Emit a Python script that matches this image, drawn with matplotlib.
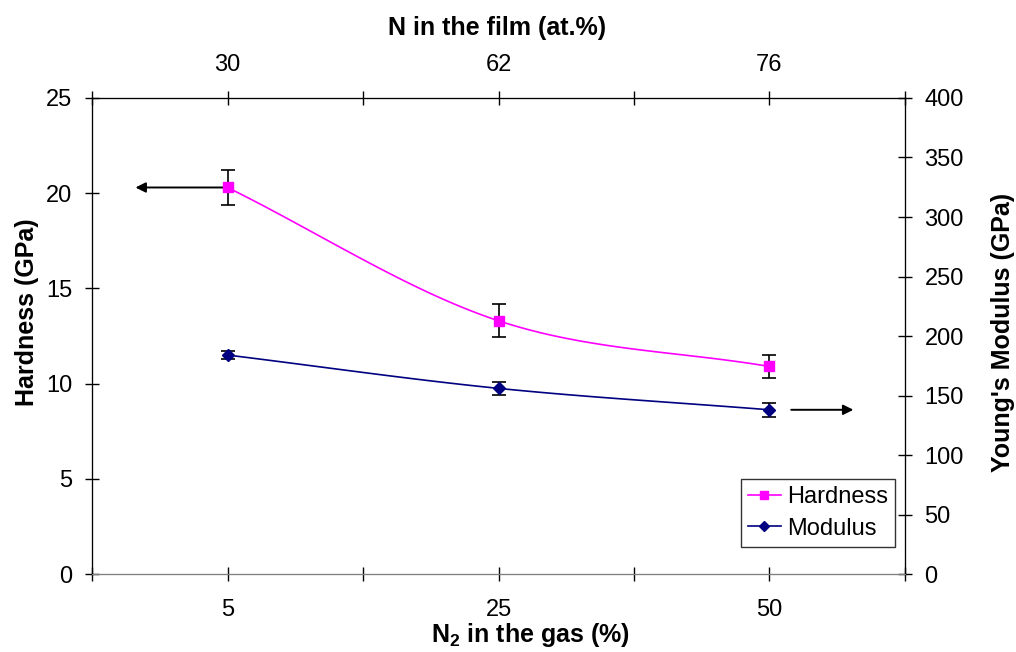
import numpy as np
import matplotlib
matplotlib.use("Agg")
import matplotlib.pyplot as plt
from matplotlib.ticker import MultipleLocator
from matplotlib.lines import Line2D

plt.rcParams['font.family'] = ['Liberation Sans', 'DejaVu Sans']

# data
gas_labels = ['5', '25', '50']
film_labels = ['30', '62', '76']
hardness = [20.3, 13.3, 10.9]
hardness_err = [0.92, 0.86, 0.6]
modulus = [184, 156, 138]
modulus_err = [3, 5.5, 6]

xpos = np.arange(len(gas_labels)) + 0.5


def smooth(x, y, n=40):
    # Catmull-Rom through the points, like a spreadsheet "smoothed line"
    x = np.asarray(x, float)
    y = np.asarray(y, float)
    px = np.concatenate([[2 * x[0] - x[1]], x, [2 * x[-1] - x[-2]]])
    py = np.concatenate([[2 * y[0] - y[1]], y, [2 * y[-1] - y[-2]]])
    xs, ys = [], []
    t = np.linspace(0, 1, n)
    for i in range(1, len(px) - 2):
        for p, out in ((px, xs), (py, ys)):
            p0, p1, p2, p3 = p[i - 1], p[i], p[i + 1], p[i + 2]
            out.append(0.5 * (2 * p1 + (-p0 + p2) * t
                              + (2 * p0 - 5 * p1 + 4 * p2 - p3) * t ** 2
                              + (-p0 + 3 * p1 - 3 * p2 + p3) * t ** 3))
    return np.concatenate(xs), np.concatenate(ys)


FS = 17     # tick labels / legend
LFS = 18    # axis titles
W, H = 1016, 652

fig = plt.figure(figsize=(10.16, 6.52), dpi=100)
ax = fig.add_axes([0.0906, 0.1196, 0.8001, 0.7301])
ax2 = ax.twinx()
ax3 = ax.twiny()

hx, hy = smooth(xpos, hardness)
ax.plot(hx, hy, color='#FF00FF', lw=1.2, zorder=3)
ax.errorbar(xpos, hardness, yerr=hardness_err, fmt='none', ecolor='black',
            elinewidth=1.2, capsize=5, capthick=1.2, zorder=4)
ax.plot(xpos, hardness, ls='none', marker='s', ms=7, color='#FF00FF', zorder=5)

mx, my = smooth(xpos, modulus)
ax2.plot(mx, my, color='#000080', lw=1.2, zorder=3)
ax2.errorbar(xpos, modulus, yerr=modulus_err, fmt='none', ecolor='black',
             elinewidth=1.2, capsize=5, capthick=1.2, zorder=4)
ax2.plot(xpos, modulus, ls='none', marker='D', ms=6, color='#000080', zorder=5)

# arrows pointing at the relevant axis
ax.annotate('', xy=(0.15, hardness[0]), xytext=(0.52, hardness[0]),
            arrowprops=dict(arrowstyle='-|>', color='black', lw=1.4, mutation_scale=15))
ax2.annotate('', xy=(2.82, modulus[2]), xytext=(2.57, modulus[2]),
             arrowprops=dict(arrowstyle='-|>', color='black', lw=1.4, mutation_scale=15))

ax.set_xlim(0, 3)
ax3.set_xlim(0, 3)
ax.set_ylim(0, 25)
ax2.set_ylim(0, 400)

ax.set_xticks(xpos)
ax.set_xticklabels(gas_labels)
ax3.set_xticks(xpos)
ax3.set_xticklabels(film_labels)
for a in (ax, ax3):
    a.xaxis.set_minor_locator(MultipleLocator(1))
ax.yaxis.set_major_locator(MultipleLocator(5))
ax2.yaxis.set_major_locator(MultipleLocator(50))

for a in (ax, ax2, ax3):
    a.tick_params(which='both', direction='inout', length=10, width=1,
                  labelsize=FS, pad=9)
ax.tick_params(axis='x', pad=13)
ax3.tick_params(axis='x', pad=10.5)

for a in (ax, ax2, ax3):
    a.spines['bottom'].set_color('#808080')

# axis titles
fig.text(530 / W, 1 - 635 / H, 'N$_\\mathregular{2}$ in the gas (%)', fontsize=LFS,
         fontweight='bold', ha='center', va='center')
fig.text(497 / W, 1 - 28 / H, 'N in the film (at.%)', fontsize=LFS,
         fontweight='bold', ha='center', va='center')
fig.text(27 / W, 1 - 312 / H, 'Hardness (GPa)', fontsize=LFS, fontweight='bold',
         rotation=90, ha='center', va='center')
fig.text(1003 / W, 1 - 332 / H, "Young's Modulus (GPa)", fontsize=LFS,
         fontweight='bold', rotation=90, ha='center', va='center')

handles = [Line2D([], [], color='#FF00FF', marker='s', ms=6, lw=1.2),
           Line2D([], [], color='#000080', marker='D', ms=5, lw=1.2)]
leg = ax2.legend(handles, ['Hardness', 'Modulus'], loc='upper left',
                 bbox_to_anchor=(0.798, 0.1996), fontsize=FS, frameon=True,
                 fancybox=False, edgecolor='black', handlelength=1.4,
                 borderpad=0.3, labelspacing=0.4, handletextpad=0.25,
                 borderaxespad=0)
leg.get_frame().set_linewidth(1.0)

fig.savefig('out.png', dpi=100)
